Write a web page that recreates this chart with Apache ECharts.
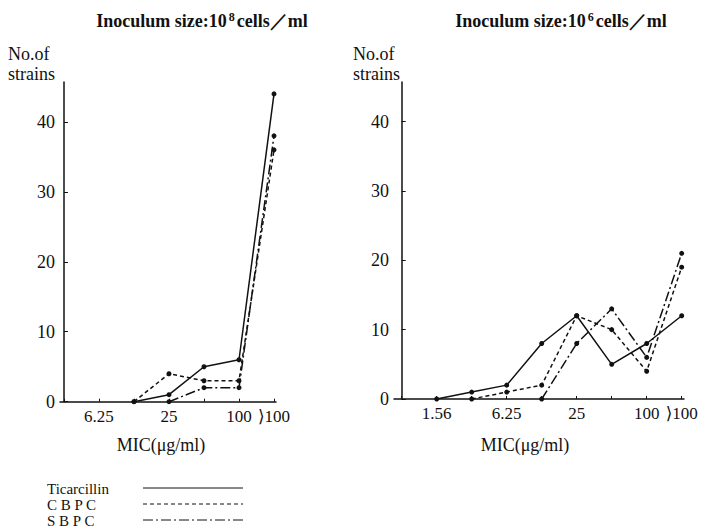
<!DOCTYPE html>
<html><head><meta charset="utf-8">
<script src="https://cdn.jsdelivr.net/npm/echarts@6/dist/echarts.min.js"></script>
<style>html,body{margin:0;padding:0;background:#fff}#c{width:703px;height:529px}</style>
</head><body><div id="c"></div>
<script>
// ---- data ----
const seriesNames = ['Ticarcillin', 'CBPC', 'SBPC'];
const legendLabels = ['Ticarcillin', 'C B P C', 'S B P C'];
const catsLeft = ['3.13', '6.25', '12.5', '25', '50', '100', '⟩100'];
const shownLeft = ['6.25', '25', '100', '⟩100'];
const ticLeft  = [null, null, 0, 1, 5, 6, 44];
const cbpcLeft = [null, null, 0, 4, 3, 3, 36];
const sbpcLeft = [null, null, null, 0, 2, 2, 38];
const catsRight = ['0.78', '1.56', '3.13', '6.25', '12.5', '25', '50', '100', '⟩100'];
const shownRight = ['1.56', '6.25', '25', '100', '⟩100'];
const ticRight  = [null, 0, 1, 2, 8, 12, 5, 8, 12];
const cbpcRight = [null, null, 0, 1, 2, 12, 10, 4, 19];
const sbpcRight = [null, null, null, null, 0, 8, 13, 6, 21];
const yTicks = [0, 10, 20, 30, 40];
const titleLeft = 'Inoculum size:10{sup|8}cells／ml';
const titleRight = 'Inoculum size:10{sup|6}cells／ml';
const yName = 'No.of\nstrains';
const xName = 'MIC(μg/ml)';

// ---- build ----
const FONT = '"Liberation Serif", "DejaVu Serif", serif';
const INK = '#111';
const dashes = ['solid', [4, 3], [10, 3, 2, 3]];

function pairs(arr) {
  const out = [];
  arr.forEach((v, i) => { if (v !== null) out.push([i, v]); });
  return out;
}
function idxOf(cats, shown) { return shown.map(s => cats.indexOf(s)); }

function xAxis(gi, cats, shown, min, max) {
  return {
    type: 'value', gridIndex: gi, min: min, max: max,
    axisLine: { lineStyle: { color: INK, width: 1.5 } },
    axisTick: { inside: true, length: 3, customValues: cats.map((c, i) => i), lineStyle: { color: INK } },
    axisLabel: {
      customValues: idxOf(cats, shown),
      formatter: v => cats[Math.round(v)],
      hideOverlap: false, showMinLabel: true, showMaxLabel: true,
      color: INK, fontFamily: FONT, fontSize: 17, margin: 6
    },
    splitLine: { show: false }
  };
}
function yAxis(gi) {
  return {
    type: 'value', gridIndex: gi, min: 0, max: 45.7,
    axisLine: { show: true, lineStyle: { color: INK, width: 1.5 } },
    axisTick: { show: true, inside: true, length: 4, customValues: yTicks, lineStyle: { color: INK } },
    axisLabel: { customValues: yTicks, color: INK, fontFamily: FONT, fontSize: 18, margin: 5 },
    splitLine: { show: false }
  };
}
function line(name, arr, k, gi) {
  return {
    type: 'line', name: name, xAxisIndex: gi, yAxisIndex: gi,
    data: pairs(arr), symbol: 'circle', symbolSize: 5,
    itemStyle: { color: INK },
    lineStyle: { color: INK, width: 1.5, type: dashes[k] },
    animation: false
  };
}
const titleStyle = {
  fontFamily: FONT, fontSize: 18, fontWeight: 'bold', color: INK,
  rich: { sup: { fontFamily: FONT, fontSize: 12, fontWeight: 'bold', color: INK, verticalAlign: 'top', padding: [0, 2, 7, 2] } }
};
const nameStyle = { fontFamily: FONT, fontSize: 18, fontWeight: 'normal', color: INK, lineHeight: 20 };
const legendItems = [];
legendLabels.forEach((t, k) => {
  const y = 488 + k * 16;
  legendItems.push({ type: 'text', left: 47, top: y - 7, style: { text: t, font: '15px ' + FONT, fill: INK } });
  legendItems.push({ type: 'line', shape: { x1: 143, y1: y, x2: 243, y2: y }, style: { stroke: INK, lineWidth: 1, lineDash: dashes[k] === 'solid' ? null : dashes[k] } });
});

const chart = echarts.init(document.getElementById('c'), null, { renderer: 'svg' });
chart.setOption({
  animation: false,
  backgroundColor: '#fff',
  title: [
    { text: titleLeft, left: 197, top: 6, textAlign: 'center', textStyle: titleStyle },
    { text: titleRight, left: 556, top: 6, textAlign: 'center', textStyle: titleStyle },
    { text: yName, left: 3, top: 39, textStyle: nameStyle },
    { text: yName, left: 348, top: 39, textStyle: nameStyle },
    { text: xName, left: 156, top: 430, textAlign: 'center', textStyle: nameStyle },
    { text: xName, left: 520, top: 430, textAlign: 'center', textStyle: nameStyle }
  ],
  grid: [
    { left: 60, top: 82, width: 216, height: 319.7, containLabel: false },
    { left: 394, top: 82, width: 290, height: 317, containLabel: false }
  ],
  xAxis: [xAxis(0, catsLeft, shownLeft, -0.114, 6.057), xAxis(1, catsRight, shownRight, -0.22, 8.066)],
  yAxis: [yAxis(0), yAxis(1)],
  series: [
    line(seriesNames[0], ticLeft, 0, 0),
    line(seriesNames[1], cbpcLeft, 1, 0),
    line(seriesNames[2], sbpcLeft, 2, 0),
    line(seriesNames[0], ticRight, 0, 1),
    line(seriesNames[1], cbpcRight, 1, 1),
    line(seriesNames[2], sbpcRight, 2, 1)
  ],
  graphic: legendItems
});
</script></body></html>
